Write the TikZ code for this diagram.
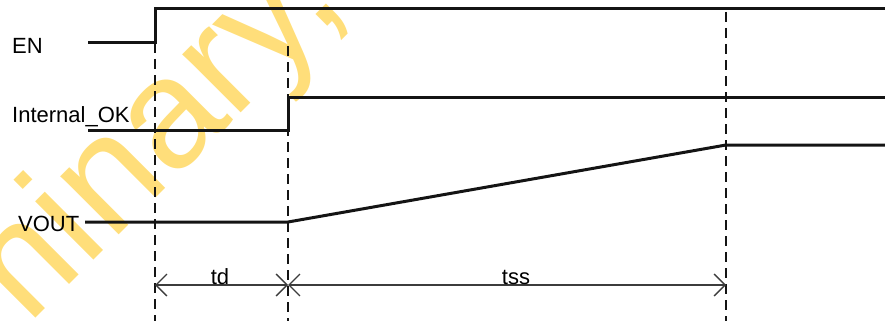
\documentclass[tikz,border=0pt]{standalone}
\usepackage{fontspec}
\setmainfont{Liberation Sans}
\usepackage{tikz}
\usetikzlibrary{arrows.meta, calc}
\definecolor{wmyellow}{RGB}{255,222,122}
\definecolor{mydark}{RGB}{20,20,20}
\definecolor{mygray}{RGB}{60,60,60}
\tikzset{
  signal/.style={line width=3pt, color=mydark},
  guide/.style={line width=1.4pt, dash pattern=on 10pt off 6pt, color=mydark},
  span/.style={{Straight Barb[length=11pt,width=22pt]}-{Straight Barb[length=11pt,width=22pt]},
    line width=1.3pt, color=mygray},
  siglabel/.style={font=\fontsize{22}{26}\selectfont, inner sep=0pt, anchor=base west},
  timelabel/.style={font=\fontsize{22}{26}\selectfont, inner sep=0pt, anchor=base},
  watermark/.style={font=\fontsize{156}{160}\selectfont, color=wmyellow,
    rotate=45, anchor=base west, inner sep=0pt}
}

\begin{document}
\begin{tikzpicture}[x=1pt, y=-1pt]
  \useasboundingbox (0,0) rectangle (885,321);
  % Watermark (behind everything)
  \begin{scope}
    \clip (0,0) rectangle (885,321);
    \node[watermark] (wm) at (-226,580) {Preliminary,};
  \end{scope}
  % Signal names
  \node[siglabel] (en) at (12,54) {EN};
  \node[siglabel] (iok) at (12,122) {Internal\_OK};
  \node[siglabel] (vout) at (18,231) {VOUT};
  % Time markers on the dimension line
  \coordinate (t0) at (155,285);
  \coordinate (t1) at (288,285);
  \coordinate (t2) at (726,285);
  % Dashed guides
  \draw[guide] (155,43) -- (155,321);
  \draw[guide] (288,46) -- (288,321);
  \draw[guide] (726,12) -- (726,321);
  % Waveforms
  \draw[signal] (88,43) -- (155,43) -- (155,9) -- (885,9);
  \draw[signal] (88,130) -- (288,130) -- (288,97) -- (885,97);
  \draw[signal] (85,222) -- (288,222) -- (726,145) -- (885,145);
  % Timing spans
  \draw[span] (t0) -- (t1);
  \draw[span] (t1) -- (t2);
  \node[timelabel] (td) at (220,284) {td};
  \node[timelabel] (tss) at (516,284) {tss};
\end{tikzpicture}
\end{document}
